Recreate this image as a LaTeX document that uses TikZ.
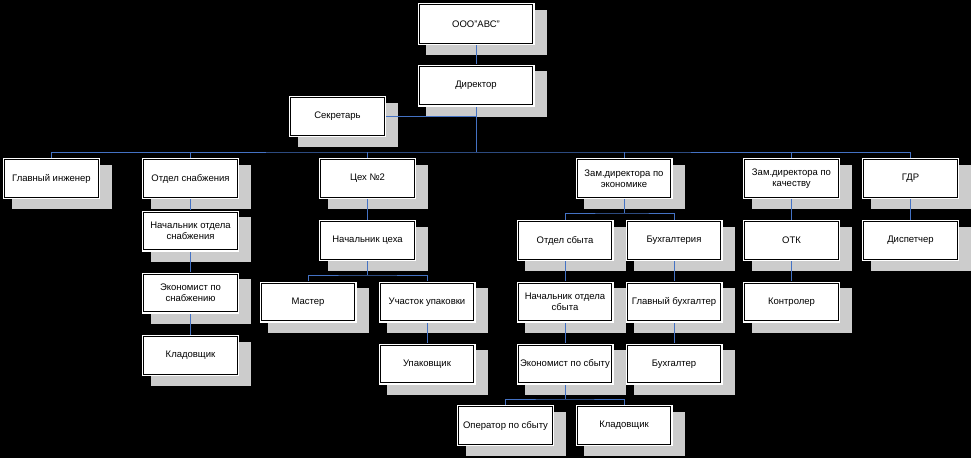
\documentclass[tikz,border=0pt]{standalone}
\usepackage{fontspec}
\setmainfont{Liberation Sans}
\pgfdeclarelayer{bgl}\pgfdeclarelayer{shad}\pgfdeclarelayer{lines}
\pgfsetlayers{bgl,shad,lines,main}
\definecolor{linec}{RGB}{68,114,196}
\definecolor{shadc}{RGB}{204,204,204}
\tikzset{
  box/.style={rectangle, fill=white, draw=none, minimum width=97pt, minimum height=41pt,
    inner sep=1pt, align=center, font=\fontsize{9.5}{11}\selectfont,
    path picture={\draw[black,line width=0.9pt]
      ([shift={(1.8pt,-1.8pt)}]path picture bounding box.north west) rectangle
      ([shift={(-1.8pt,1.8pt)}]path picture bounding box.south east);}},
  widebox/.style={box, minimum width=117pt, minimum height=42pt},
  conn/.style={draw=linec, line width=0.9pt},
  shadowbox/.style={fill=shadc}
}
\begin{document}
\begin{tikzpicture}[x=1pt,y=-1pt]
\begin{pgfonlayer}{bgl}
\fill[black] (0,0) rectangle (971,458);
\end{pgfonlayer}
\useasboundingbox (0,0) rectangle (971,458);

\node[widebox] (ooo) at (476,24) {ООО"АВС"};
\node[widebox] (dir) at (476,85.5) {Директор};
\node[box] (sec) at (337.5,116.5) {Секретарь};

\node[box] (gi) at (51.5,178.5) {Главный инженер};
\node[box] (os) at (190.5,178.5) {Отдел снабжения};
\node[box] (cex) at (367.5,178.5) {Цех №2};
\node[box] (zame) at (624,178.5) {Зам.директора по\\экономике};
\node[box] (zamk) at (791.5,178.5) {Зам.директора по\\качеству};
\node[box] (gdr) at (910.5,178.5) {ГДР};

\node[box] (ns) at (190.5,231) {Начальник отдела\\снабжения};
\node[box] (es) at (190.5,293) {Экономист по\\снабжению};
\node[box] (kla) at (190.5,355.5) {Кладовщик};

\node[box] (nc) at (367.5,240.5) {Начальник цеха};
\node[box] (mas) at (308,302) {Мастер};
\node[box] (uu) at (427,302) {Участок упаковки};
\node[box] (up) at (427,364) {Упаковщик};

\node[box] (osb) at (565,240.5) {Отдел сбыта};
\node[box] (buh) at (674,240.5) {Бухгалтерия};
\node[box] (nos) at (565,302) {Начальник отдела\\сбыта};
\node[box] (gb) at (674,302) {Главный бухгалтер};
\node[box] (eps) at (565,364) {Экономист по сбыту};
\node[box] (bu) at (674,364) {Бухгалтер};
\node[box] (ops) at (505.5,425.5) {Оператор по сбыту};
\node[box] (klb) at (624,425.5) {Кладовщик};

\node[box] (otk) at (791.5,240.5) {ОТК};
\node[box] (kon) at (791.5,302) {Контролер};
\node[box] (disp) at (910.5,240.5) {Диспетчер};

\begin{pgfonlayer}{shad}
\foreach \n in {ooo,dir,sec,gi,os,cex,zame,zamk,gdr,ns,es,kla,nc,mas,uu,up,osb,buh,nos,gb,eps,bu,ops,klb,otk,kon,disp}
  \fill[shadowbox] ([shift={(9pt,-7pt)}]\n.north west) rectangle ([shift={(12pt,-10pt)}]\n.south east);
\end{pgfonlayer}

\coordinate (b1) at (476,152);
\coordinate (b2) at (367.5,275);
\coordinate (b3) at (624,213);
\coordinate (b4) at (565,399);

\begin{pgfonlayer}{lines}
\draw[conn] (ooo.south) -- (dir.north);
\draw[conn] (dir.south) -- (b1);
\draw[conn] (sec.east) -- (sec.east -| dir.south);
\draw[conn] (gi.north) |- (b1) -| (gdr.north);
\draw[conn] (os.north) -- (os.north |- b1);
\draw[conn] (cex.north) -- (cex.north |- b1);
\draw[conn] (zame.north) -- (zame.north |- b1);
\draw[conn] (zamk.north) -- (zamk.north |- b1);
\draw[conn] (os.south) -- (ns.north);
\draw[conn] (ns.south) -- (es.north);
\draw[conn] (es.south) -- (kla.north);
\draw[conn] (cex.south) -- (nc.north);
\draw[conn] (nc.south) -- (b2);
\draw[conn] (mas.north) |- (b2) -| (uu.north);
\draw[conn] (uu.south) -- (up.north);
\draw[conn] (zame.south) -- (b3);
\draw[conn] (osb.north) |- (b3) -| (buh.north);
\draw[conn] (osb.south) -- (nos.north);
\draw[conn] (nos.south) -- (eps.north);
\draw[conn] (eps.south) -- (b4);
\draw[conn] (ops.north) |- (b4) -| (klb.north);
\draw[conn] (buh.south) -- (gb.north);
\draw[conn] (gb.south) -- (bu.north);
\draw[conn] (zamk.south) -- (otk.north);
\draw[conn] (otk.south) -- (kon.north);
\draw[conn] (gdr.south) -- (disp.north);
\end{pgfonlayer}
\end{tikzpicture}
\end{document}
